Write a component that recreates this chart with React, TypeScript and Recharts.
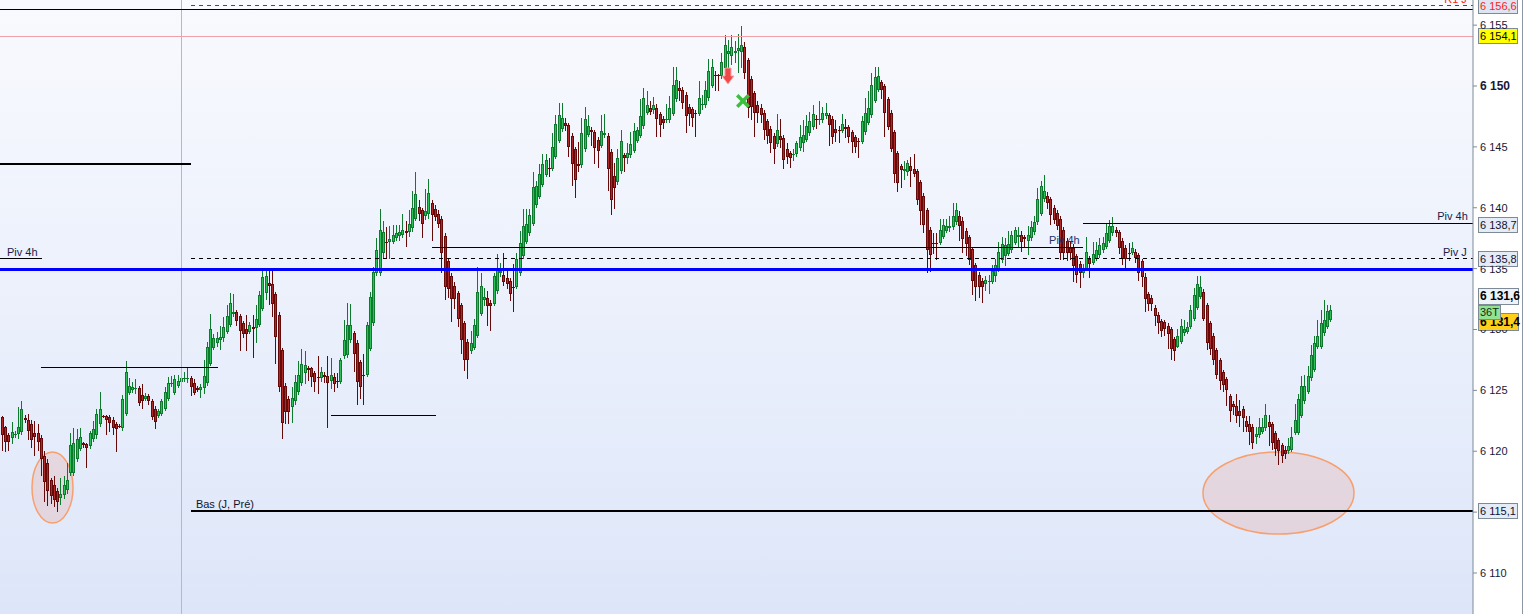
import React from 'react';
import {
  ComposedChart,
  Bar,
  XAxis,
  YAxis,
  CartesianGrid,
  ReferenceLine,
  ReferenceArea,
  ReferenceDot,
} from 'recharts';

// ---------- DATA ----------
const opens = [
  6122.8, 6122.0, 6121.3, 6121.1, 6121.3, 6121.4, 6121.6, 6122.7, 6122.6, 6122.2,
  6121.5, 6121.5, 6121.1, 6119.6, 6119.0, 6117.6, 6117.2, 6116.7, 6116.2, 6116.4,
  6116.8, 6118.2, 6118.2, 6119.4, 6120.2, 6120.7, 6120.6, 6120.4, 6121.0, 6121.3,
  6122.2, 6122.9, 6122.9, 6122.8, 6122.6, 6122.2, 6122.1, 6121.9, 6123.1, 6124.8,
  6125.0, 6125.1, 6125.2, 6124.6, 6124.3, 6124.5, 6124.1, 6123.5, 6122.9, 6123.1,
  6123.5, 6124.3, 6125.5, 6124.8, 6125.4, 6125.7, 6125.9, 6125.9, 6126.0, 6125.6,
  6125.2, 6125.0, 6125.2, 6125.6, 6127.2, 6128.5, 6128.9, 6129.1, 6129.3, 6129.8,
  6130.4, 6131.3, 6131.4, 6131.1, 6130.5, 6130.0, 6129.8, 6130.2, 6130.1, 6130.4,
  6131.7, 6133.0, 6133.8, 6133.7, 6132.9, 6131.2, 6128.3, 6125.4, 6124.3, 6123.6,
  6124.1, 6124.9, 6125.6, 6126.4, 6126.8, 6126.8, 6126.4, 6126.1, 6126.0, 6126.3,
  6126.2, 6125.8, 6126.1, 6125.8, 6125.7, 6127.8, 6127.9, 6129.1, 6129.7, 6128.9,
  6127.3, 6126.3, 6126.3, 6128.4, 6130.5, 6134.6, 6134.6, 6136.3, 6137.2, 6137.2,
  6137.2, 6137.5, 6137.7, 6137.8, 6138.1, 6138.0, 6138.3, 6139.1, 6140.1, 6139.8,
  6139.3, 6139.5, 6140.4, 6139.9, 6139.5, 6139.1, 6137.7, 6135.6, 6134.4, 6133.6,
  6133.0, 6132.0, 6130.5, 6129.0, 6128.2, 6128.5, 6129.5, 6131.3, 6132.4, 6132.6,
  6132.2, 6132.1, 6133.2, 6134.6, 6134.5, 6134.2, 6134.0, 6133.5, 6133.5, 6134.6,
  6136.0, 6137.2, 6137.9, 6138.7, 6140.2, 6140.9, 6141.9, 6142.7, 6143.3, 6143.2,
  6144.2, 6145.5, 6146.5, 6147.0, 6146.8, 6145.9, 6144.8, 6143.6, 6143.5, 6144.8,
  6146.0, 6146.4, 6146.2, 6145.6, 6145.1, 6146.0, 6145.9, 6144.6, 6142.6, 6142.1,
  6143.0, 6144.3, 6144.1, 6144.3, 6144.7, 6145.5, 6145.9, 6146.7, 6147.8, 6148.2,
  6148.0, 6148.2, 6147.7, 6147.3, 6147.2, 6147.2, 6147.7, 6148.9, 6149.8, 6149.7,
  6149.3, 6148.3, 6148.1, 6147.8, 6147.7, 6148.4, 6148.4, 6149.0, 6150.0, 6150.9,
  6150.9, 6150.8, 6151.5, 6152.6, 6152.5, 6152.7, 6152.9, 6152.8, 6153.2, 6152.1,
  6150.6, 6149.4, 6148.4, 6148.2, 6147.8, 6147.1, 6146.5, 6145.9, 6145.2, 6145.9,
  6145.7, 6144.8, 6144.5, 6144.3, 6144.4, 6144.9, 6145.3, 6145.6, 6146.1, 6146.6,
  6147.3, 6147.2, 6147.2, 6147.5, 6147.6, 6147.3, 6146.5, 6146.4, 6146.3, 6146.6,
  6146.6, 6146.2, 6145.8, 6145.5, 6145.4, 6146.2, 6147.0, 6147.6, 6148.8, 6149.7,
  6150.3, 6150.0, 6148.9, 6147.8, 6146.2, 6144.5, 6143.4, 6143.0, 6142.9, 6143.4,
  6143.2, 6143.0, 6142.1, 6141.0, 6139.8, 6138.2, 6137.1, 6137.1, 6137.1, 6137.6,
  6138.1, 6138.3, 6138.4, 6138.8, 6139.3, 6138.9, 6138.1, 6137.6, 6136.6, 6135.3,
  6134.5, 6134.0, 6133.7, 6133.9, 6133.9, 6134.4, 6134.9, 6135.7, 6136.0, 6136.2,
  6136.5, 6137.1, 6137.6, 6137.8, 6137.6, 6137.3, 6137.5, 6138.0, 6138.8, 6139.5,
  6140.7, 6141.0, 6140.7, 6140.0, 6139.6, 6139.1, 6138.2, 6137.3, 6136.7, 6136.7,
  6136.0, 6135.4, 6134.6, 6135.0, 6135.8, 6135.5, 6135.8, 6136.1, 6136.5, 6136.8,
  6137.3, 6137.9, 6138.2, 6138.0, 6137.3, 6136.7, 6136.3, 6136.3, 6136.4, 6136.1,
  6135.6, 6134.3, 6132.9, 6132.6, 6131.8, 6131.2, 6130.7, 6130.6, 6130.3, 6130.0,
  6129.2, 6128.6, 6129.0, 6129.7, 6129.8, 6130.2, 6130.9, 6131.8, 6132.7, 6133.1,
  6132.0, 6130.5, 6129.5, 6128.3, 6127.5, 6126.5, 6125.9, 6124.5, 6123.9, 6123.7,
  6123.3, 6123.5, 6122.5, 6122.2, 6122.0, 6121.2, 6121.3, 6121.6, 6121.9, 6122.4,
  6122.2, 6121.5, 6120.9, 6120.5, 6120.1, 6120.0, 6120.1, 6121.5, 6121.5, 6122.9,
  6124.1, 6124.9, 6126.0, 6126.7, 6128.6, 6128.6, 6129.7, 6130.2, 6130.8,
];

const highs = [
  6122.9, 6122.1, 6121.5, 6122.4, 6121.7, 6123.6, 6124.1, 6123.0, 6123.1, 6122.6,
  6122.5, 6122.2, 6121.3, 6120.0, 6119.4, 6117.8, 6118.0, 6117.0, 6117.8, 6118.0,
  6119.0, 6121.5, 6121.9, 6121.8, 6121.9, 6120.8, 6120.7, 6121.7, 6122.5, 6123.5,
  6124.9, 6123.0, 6123.0, 6123.0, 6122.8, 6122.4, 6122.2, 6124.6, 6127.4, 6126.0,
  6125.7, 6125.9, 6125.4, 6125.5, 6124.8, 6124.7, 6124.3, 6123.7, 6123.5, 6124.3,
  6125.3, 6126.1, 6126.2, 6126.3, 6126.3, 6126.6, 6126.5, 6126.9, 6126.2, 6125.9,
  6125.4, 6125.5, 6127.5, 6129.0, 6131.3, 6129.6, 6129.8, 6130.3, 6131.0, 6132.0,
  6133.0, 6132.9, 6131.6, 6131.3, 6130.7, 6131.2, 6130.6, 6131.2, 6132.0, 6133.2,
  6134.9, 6134.9, 6134.9, 6134.9, 6133.1, 6131.4, 6128.5, 6125.6, 6124.5, 6125.3,
  6126.3, 6127.4, 6128.4, 6128.2, 6127.0, 6126.9, 6126.6, 6127.8, 6126.9, 6126.5,
  6127.8, 6127.7, 6126.4, 6126.4, 6127.7, 6130.8, 6132.2, 6132.1, 6129.9, 6129.1,
  6127.5, 6128.0, 6130.6, 6133.1, 6135.1, 6137.5, 6139.9, 6138.9, 6138.4, 6138.5,
  6138.6, 6138.6, 6138.6, 6139.5, 6138.9, 6139.8, 6141.4, 6142.9, 6140.6, 6140.0,
  6141.5, 6142.4, 6140.6, 6140.2, 6139.8, 6139.3, 6137.9, 6135.8, 6134.6, 6133.9,
  6133.2, 6132.2, 6130.7, 6129.2, 6129.9, 6130.9, 6135.1, 6134.6, 6133.4, 6133.2,
  6132.4, 6134.6, 6136.2, 6135.5, 6136.3, 6134.9, 6134.2, 6135.4, 6136.3, 6138.1,
  6139.9, 6139.9, 6139.9, 6142.9, 6142.2, 6143.6, 6144.4, 6144.4, 6144.1, 6146.1,
  6147.6, 6148.6, 6148.6, 6147.4, 6147.0, 6146.1, 6145.0, 6145.4, 6147.4, 6148.3,
  6147.6, 6146.6, 6146.4, 6145.8, 6147.6, 6147.7, 6146.1, 6144.8, 6143.7, 6144.8,
  6146.4, 6144.5, 6145.3, 6146.2, 6147.0, 6146.6, 6148.9, 6149.8, 6149.6, 6148.8,
  6149.1, 6148.5, 6147.9, 6147.5, 6148.5, 6149.2, 6151.6, 6151.6, 6150.4, 6149.9,
  6149.5, 6148.5, 6148.3, 6148.0, 6150.4, 6149.3, 6150.4, 6152.2, 6152.2, 6151.2,
  6151.0, 6152.7, 6154.2, 6153.8, 6154.2, 6153.7, 6154.3, 6154.9, 6153.6, 6152.3,
  6150.8, 6149.6, 6148.8, 6148.5, 6148.0, 6147.3, 6146.7, 6146.1, 6147.7, 6147.3,
  6146.0, 6145.3, 6144.7, 6144.8, 6145.5, 6146.8, 6147.2, 6147.6, 6147.9, 6148.4,
  6147.6, 6148.8, 6148.3, 6148.6, 6147.8, 6147.5, 6147.2, 6146.7, 6147.7, 6147.3,
  6146.8, 6146.4, 6146.0, 6145.7, 6147.5, 6149.0, 6149.6, 6151.1, 6151.6, 6151.6,
  6150.5, 6150.2, 6149.1, 6148.0, 6146.4, 6144.7, 6143.6, 6143.8, 6143.9, 6144.2,
  6144.4, 6143.2, 6142.3, 6141.2, 6140.0, 6138.4, 6137.9, 6137.9, 6139.1, 6139.1,
  6139.1, 6139.3, 6140.4, 6140.4, 6139.7, 6139.2, 6138.3, 6137.8, 6136.8, 6135.5,
  6134.7, 6134.2, 6134.4, 6134.5, 6135.3, 6135.8, 6137.2, 6137.6, 6137.5, 6138.1,
  6138.1, 6138.4, 6138.4, 6138.1, 6137.8, 6138.5, 6138.9, 6139.3, 6141.6, 6142.2,
  6142.7, 6141.3, 6140.9, 6140.2, 6139.8, 6139.3, 6138.4, 6137.5, 6137.2, 6137.0,
  6136.2, 6135.6, 6135.4, 6137.6, 6136.0, 6137.2, 6137.2, 6137.5, 6137.6, 6138.7,
  6139.0, 6139.2, 6138.4, 6138.2, 6137.5, 6136.9, 6137.1, 6137.2, 6136.6, 6136.3,
  6135.8, 6134.6, 6133.1, 6132.8, 6132.0, 6131.4, 6130.9, 6130.8, 6130.5, 6130.2,
  6129.4, 6130.0, 6130.9, 6130.8, 6130.6, 6132.0, 6133.4, 6134.4, 6134.4, 6133.3,
  6132.2, 6130.7, 6129.7, 6128.5, 6127.7, 6126.7, 6126.1, 6124.7, 6124.1, 6124.7,
  6124.2, 6123.7, 6122.9, 6122.9, 6122.2, 6122.0, 6122.7, 6122.7, 6123.9, 6123.0,
  6122.4, 6121.7, 6121.1, 6120.7, 6120.4, 6121.1, 6122.0, 6123.9, 6124.7, 6126.2,
  6126.3, 6127.0, 6128.7, 6129.5, 6130.8, 6131.6, 6132.4, 6132.0, 6132.0,
];

const lows = [
  6120.0, 6119.9, 6120.0, 6120.6, 6121.1, 6121.0, 6121.3, 6122.3, 6120.9, 6120.3,
  6119.6, 6120.0, 6118.0, 6115.8, 6115.5, 6115.7, 6115.4, 6115.0, 6115.6, 6116.1,
  6116.5, 6118.0, 6118.0, 6119.1, 6120.0, 6120.3, 6118.6, 6120.2, 6120.8, 6121.0,
  6122.0, 6122.7, 6121.3, 6121.6, 6121.3, 6119.9, 6121.9, 6121.7, 6122.9, 6124.6,
  6124.8, 6124.7, 6123.7, 6123.5, 6124.1, 6123.8, 6122.6, 6121.8, 6122.7, 6122.9,
  6123.3, 6124.1, 6125.3, 6124.6, 6125.2, 6125.5, 6125.7, 6125.6, 6124.5, 6124.6,
  6124.9, 6124.4, 6124.7, 6125.4, 6127.0, 6128.3, 6128.6, 6128.3, 6129.0, 6129.6,
  6130.2, 6131.0, 6130.3, 6128.2, 6129.3, 6128.2, 6129.6, 6127.7, 6128.9, 6130.2,
  6131.5, 6132.4, 6132.0, 6131.0, 6127.2, 6124.9, 6121.0, 6122.2, 6122.2, 6122.3,
  6123.8, 6124.6, 6125.4, 6125.5, 6125.8, 6125.3, 6124.9, 6124.7, 6125.7, 6125.6,
  6121.9, 6125.1, 6124.9, 6125.2, 6125.5, 6127.6, 6127.7, 6128.9, 6126.5, 6123.8,
  6124.3, 6123.8, 6126.1, 6128.2, 6130.3, 6134.4, 6134.4, 6135.9, 6135.8, 6135.8,
  6137.0, 6137.3, 6137.3, 6137.5, 6136.8, 6137.6, 6138.0, 6138.9, 6138.9, 6137.5,
  6139.0, 6139.1, 6137.3, 6138.9, 6138.3, 6134.6, 6132.4, 6132.6, 6130.6, 6131.7,
  6130.2, 6128.0, 6126.6, 6125.9, 6128.0, 6128.3, 6129.3, 6131.1, 6131.9, 6130.3,
  6129.9, 6131.9, 6132.9, 6134.3, 6133.6, 6133.3, 6132.3, 6131.4, 6133.3, 6134.4,
  6135.8, 6137.0, 6137.7, 6138.5, 6140.0, 6140.7, 6141.7, 6142.5, 6142.5, 6143.0,
  6144.0, 6145.3, 6146.2, 6146.3, 6144.2, 6141.8, 6140.8, 6142.9, 6143.3, 6144.6,
  6145.8, 6145.1, 6143.6, 6143.3, 6144.9, 6145.7, 6141.4, 6139.4, 6139.9, 6141.9,
  6142.8, 6142.9, 6143.6, 6144.1, 6144.5, 6145.3, 6145.7, 6146.5, 6147.6, 6147.6,
  6147.7, 6145.8, 6145.8, 6146.5, 6147.0, 6147.0, 6147.5, 6148.7, 6148.8, 6148.1,
  6146.1, 6146.7, 6146.6, 6145.8, 6147.5, 6148.0, 6148.2, 6148.8, 6149.8, 6149.6,
  6149.6, 6150.6, 6151.3, 6151.5, 6151.7, 6151.9, 6151.1, 6151.5, 6150.6, 6147.4,
  6147.2, 6145.8, 6147.0, 6147.0, 6145.6, 6145.2, 6144.5, 6143.6, 6145.0, 6144.9,
  6143.2, 6143.6, 6143.3, 6143.8, 6144.2, 6144.7, 6144.6, 6145.4, 6145.9, 6146.4,
  6146.5, 6146.8, 6147.0, 6147.3, 6145.1, 6145.2, 6145.4, 6145.3, 6146.1, 6145.7,
  6145.3, 6144.5, 6144.5, 6144.1, 6145.2, 6146.0, 6146.8, 6147.4, 6148.6, 6149.5,
  6148.9, 6145.8, 6146.4, 6144.6, 6142.0, 6141.3, 6141.6, 6142.3, 6142.6, 6141.7,
  6142.5, 6140.2, 6138.6, 6137.9, 6134.6, 6134.7, 6136.2, 6135.7, 6136.9, 6137.4,
  6137.9, 6138.0, 6138.2, 6138.6, 6137.3, 6136.3, 6136.0, 6135.3, 6132.8, 6132.3,
  6132.6, 6132.2, 6133.2, 6132.9, 6133.7, 6133.9, 6134.7, 6135.5, 6135.2, 6136.0,
  6136.3, 6136.9, 6136.8, 6136.4, 6136.7, 6136.1, 6137.3, 6137.8, 6138.6, 6139.3,
  6140.5, 6139.9, 6138.6, 6138.7, 6138.2, 6135.7, 6135.7, 6135.6, 6135.7, 6133.9,
  6133.8, 6133.4, 6134.2, 6134.8, 6134.2, 6135.3, 6135.6, 6135.9, 6136.3, 6136.6,
  6137.1, 6137.7, 6137.6, 6136.2, 6135.3, 6134.8, 6135.6, 6136.1, 6135.5, 6134.0,
  6133.5, 6131.4, 6131.5, 6131.5, 6130.3, 6129.6, 6129.4, 6129.5, 6128.4, 6127.5,
  6127.4, 6128.5, 6128.8, 6129.5, 6129.6, 6130.0, 6130.7, 6131.6, 6132.5, 6130.7,
  6128.3, 6127.9, 6127.1, 6125.9, 6125.0, 6124.9, 6123.7, 6122.4, 6123.0, 6122.3,
  6122.0, 6121.6, 6121.6, 6120.5, 6120.2, 6120.6, 6121.1, 6121.4, 6121.7, 6120.4,
  6120.1, 6119.6, 6118.9, 6119.0, 6119.4, 6119.8, 6119.9, 6121.3, 6121.3, 6122.7,
  6123.9, 6124.7, 6125.8, 6126.5, 6128.4, 6128.4, 6129.5, 6130.0, 6130.6,
];

const closes = [
  6121.3, 6120.8, 6120.8, 6121.6, 6121.4, 6122.0, 6123.5, 6122.6, 6121.7, 6120.9,
  6121.2, 6120.8, 6119.4, 6117.5, 6116.7, 6116.3, 6116.0, 6115.8, 6116.5, 6117.2,
  6117.6, 6120.5, 6120.7, 6121.0, 6121.2, 6120.5, 6120.3, 6121.5, 6121.8, 6123.1,
  6123.5, 6122.8, 6122.6, 6122.3, 6121.9, 6121.8, 6122.0, 6124.3, 6126.5, 6125.4,
  6125.3, 6125.2, 6124.0, 6124.1, 6124.5, 6124.1, 6122.8, 6122.4, 6123.3, 6124.1,
  6124.9, 6125.6, 6125.6, 6125.9, 6125.8, 6126.0, 6126.0, 6126.0, 6125.3, 6124.8,
  6125.0, 6125.3, 6126.2, 6128.6, 6130.0, 6129.3, 6129.3, 6129.4, 6130.2, 6131.1,
  6132.2, 6131.4, 6130.7, 6129.9, 6129.6, 6129.6, 6130.4, 6130.0, 6130.9, 6132.8,
  6134.3, 6134.4, 6133.6, 6132.1, 6129.4, 6125.3, 6122.3, 6123.2, 6123.2, 6124.4,
  6125.7, 6126.3, 6127.2, 6127.1, 6126.7, 6126.1, 6125.7, 6126.0, 6126.5, 6126.1,
  6125.6, 6126.3, 6125.5, 6125.7, 6127.5, 6129.1, 6130.4, 6130.4, 6128.0, 6125.7,
  6125.3, 6126.2, 6130.4, 6132.7, 6134.7, 6136.5, 6138.2, 6138.0, 6137.1, 6137.4,
  6137.8, 6137.9, 6138.0, 6138.2, 6137.9, 6138.7, 6139.95, 6141.1, 6139.5, 6138.7,
  6139.7, 6141.2, 6139.4, 6139.2, 6138.7, 6136.3, 6133.5, 6133.3, 6132.5, 6132.5,
  6130.9, 6129.1, 6127.5, 6127.5, 6128.9, 6130.4, 6133.1, 6133.6, 6132.7, 6131.9,
  6131.9, 6134.4, 6135.0, 6134.8, 6133.9, 6133.7, 6132.9, 6133.4, 6135.8, 6137.1,
  6138.5, 6138.7, 6139.4, 6141.7, 6141.8, 6142.8, 6143.6, 6143.9, 6143.2, 6145.0,
  6146.9, 6147.6, 6147.4, 6146.7, 6145.0, 6143.6, 6142.3, 6143.4, 6146.1, 6147.3,
  6146.7, 6146.2, 6144.9, 6144.7, 6146.3, 6146.1, 6143.2, 6140.6, 6141.6, 6144.1,
  6145.5, 6144.1, 6144.5, 6145.2, 6146.3, 6146.4, 6147.5, 6149.0, 6148.4, 6147.9,
  6148.4, 6147.3, 6146.8, 6147.0, 6147.3, 6148.2, 6150.1, 6150.5, 6149.6, 6148.6,
  6147.5, 6147.7, 6147.4, 6147.7, 6149.0, 6148.5, 6149.7, 6151.2, 6151.6, 6150.8,
  6150.8, 6152.0, 6153.4, 6152.9, 6153.2, 6152.9, 6153.1, 6153.4, 6151.1, 6148.2,
  6148.3, 6147.8, 6147.8, 6147.6, 6146.4, 6145.9, 6145.3, 6144.8, 6146.4, 6145.6,
  6143.9, 6144.2, 6144.1, 6144.4, 6145.3, 6145.8, 6146.0, 6146.7, 6147.1, 6147.7,
  6147.2, 6147.3, 6147.8, 6147.8, 6146.8, 6145.8, 6146.1, 6146.3, 6146.9, 6146.5,
  6145.8, 6145.4, 6145.0, 6145.4, 6147.1, 6147.8, 6148.2, 6150.1, 6150.7, 6150.8,
  6149.7, 6147.8, 6146.6, 6144.8, 6142.8, 6142.0, 6143.1, 6143.2, 6143.7, 6143.0,
  6142.8, 6140.6, 6139.7, 6138.6, 6136.5, 6136.1, 6137.0, 6137.0, 6138.2, 6138.6,
  6138.5, 6138.5, 6139.3, 6139.8, 6138.5, 6137.4, 6137.0, 6135.7, 6134.0, 6133.5,
  6133.5, 6133.5, 6134.1, 6134.0, 6134.8, 6135.3, 6136.4, 6137.0, 6136.9, 6137.0,
  6137.8, 6138.2, 6137.8, 6137.2, 6137.4, 6137.8, 6138.4, 6138.8, 6140.7, 6141.8,
  6141.4, 6140.4, 6139.4, 6139.0, 6138.5, 6136.3, 6136.3, 6136.3, 6136.3, 6135.2,
  6134.5, 6134.6, 6135.0, 6136.4, 6135.4, 6136.2, 6136.5, 6136.9, 6137.1, 6137.9,
  6138.5, 6138.5, 6137.9, 6136.7, 6135.8, 6135.8, 6136.2, 6136.7, 6135.9, 6134.6,
  6134.3, 6132.5, 6132.1, 6132.1, 6131.1, 6130.5, 6129.9, 6130.0, 6129.6, 6128.4,
  6128.2, 6129.5, 6130.3, 6130.0, 6130.2, 6131.6, 6132.8, 6133.7, 6133.5, 6130.9,
  6128.9, 6128.4, 6127.5, 6126.3, 6125.8, 6125.45, 6125.0, 6123.3, 6123.6, 6122.9,
  6122.9, 6122.7, 6122.0, 6121.6, 6120.7, 6121.4, 6122.0, 6122.0, 6123.0, 6122.0,
  6120.7, 6120.2, 6120.0, 6119.6, 6119.8, 6120.4, 6121.2, 6122.6, 6124.3, 6125.4,
  6125.4, 6126.2, 6127.9, 6128.9, 6129.5, 6130.5, 6130.8, 6131.5, 6131.6,
];

const yTicks = [6110, 6115, 6120, 6125, 6130, 6135, 6140, 6145, 6150, 6155];

// horizontal levels spanning the whole plot
const fullLevels = [
  { value: 6156.3, color: '#000000', width: 1 },
  { value: 6154.1, color: '#f2a0a6', width: 1 },
  { value: 6134.9, color: '#0000ff', width: 3 },
];

// levels drawn over a bar range [from, to]
const segmentLevels = [
  { value: 6156.6, from: 57.9, to: 451.58, color: '#ff0000', width: 1, dash: '4 4' },
  { value: 6143.6, from: -0.75, to: 57.9, color: '#000000', width: 2.5, dash: '' },
  { value: 6135.8, from: -0.75, to: 12.15, color: '#000000', width: 1, dash: '' },
  { value: 6135.8, from: 57.9, to: 451.58, color: '#000000', width: 1, dash: '4 4' },
  { value: 6136.75, from: 131.9, to: 331.8, color: '#000000', width: 1, dash: '' },
  { value: 6138.7, from: 331.8, to: 451.58, color: '#000000', width: 1, dash: '' },
  { value: 6126.9, from: 11.84, to: 66.2, color: '#000000', width: 1, dash: '' },
  { value: 6122.9, from: 100.9, to: 133.1, color: '#000000', width: 1, dash: '' },
  { value: 6115.1, from: 57.9, to: 451.58, color: '#000000', width: 2.5, dash: '' },
];

const sessionBreaks = [54.92];

// text notes: position (bar index, price) of the text baseline
const notes = [
  { x: 1.4, value: 6136.04, text: 'Piv 4h', anchor: 'start', color: '#1c2048' },
  { x: 450.0, value: 6138.99, text: 'Piv 4h', anchor: 'end', color: '#1c2048' },
  { x: 449.7, value: 6136.04, text: 'Piv J', anchor: 'end', color: '#1c2048' },
  { x: 59.4, value: 6115.34, text: 'Bas (J, Pré)', anchor: 'start', color: '#10142e' },
  { x: 449.7, value: 6156.82, text: 'R1 J', anchor: 'end', color: '#ff2020' },
];
const hiddenNote = { x: 321.4, value: 6137.02, text: 'Piv 4h' };

// highlighted zones (ellipses)
const zones = [
  { x1: 9.08, x2: 21.67, y1: 6114.11, y2: 6119.94 },
  { x1: 368.66, x2: 415.04, y1: 6113.2, y2: 6119.94 },
];

// signals
const sellSignal = { x: 222.8, value: 6150.82 };
const exitSignal = { x: 227.4, value: 6148.77 };

// price tags on the right axis
const axisTags = [
  { value: 6156.6, text: '6 156,6', fill: '#dce5f1', color: '#ff1a1a', bold: false, shift: 0, w: 39, h: 15 },
  { value: 6154.1, text: '6 154,1', fill: '#ffff00', color: '#000000', bold: false, shift: 0, w: 39, h: 15 },
  { value: 6138.7, text: '6 138,7', fill: '#e4ecf7', color: '#101030', bold: false, shift: 1, w: 39, h: 15 },
  { value: 6135.8, text: '6 135,8', fill: '#e4ecf7', color: '#101030', bold: false, shift: 0, w: 39, h: 15 },
  { value: 6131.6, text: '6 131,6', fill: '#eef3fa', color: '#000000', bold: true, shift: -14, w: 40, h: 16 },
  { value: 6131.4, text: '6 131,4', fill: '#ffcf1c', color: '#000000', bold: true, shift: 10, w: 40, h: 17 },
  { value: 6131.4, text: '36T', fill: '#93e293', color: '#103010', bold: false, shift: 0, w: 22, h: 14 },
  { value: 6115.1, text: '6 115,1', fill: '#e4ecf7', color: '#101030', bold: false, shift: 0, w: 39, h: 15 },
];

// part of each tick label that stays visible next to the price tags (pixels from the tick, null = hidden)
const tickVisibleFrom: Record<number, number | null> = { 6135: -3, 6130: 0.5, 6115: null };

// ---------- LAYOUT ----------
const W = 1525;
const H = 614;
const AXIS_W = 52;
const X_MIN = -0.75;
const X_MAX = 451.58;
const Y_MIN = 6106.632;
const Y_MAX = 6157.064;
const FONT = '"Liberation Sans", Arial, sans-serif';

const data = opens.map((o, i) => ({
  i,
  range: [lows[i], highs[i]],
  o,
  h: highs[i],
  l: lows[i],
  c: closes[i],
}));

const UP_EDGE = '#0d7a2d';
const UP_FILL = '#2cc157';
const DN_EDGE = '#650909';
const DN_FILL = '#ad2a2a';

function Candle(props: any) {
  const { x, y, width, height } = props;
  const d = props.payload || props;
  if (x == null || y == null || d == null) return null;
  const top = Math.min(y, y + height);
  const bot = Math.max(y, y + height);
  const span = d.h - d.l;
  const ppu = span > 0 ? (bot - top) / span : 0;
  const px = Math.round(x + width / 2 - 0.5);
  const yo = top + (d.h - d.o) * ppu;
  const yc = top + (d.h - d.c) * ppu;
  const up = d.c >= d.o;
  const edge = up ? UP_EDGE : DN_EDGE;
  const fill = up ? UP_FILL : DN_FILL;
  const bt = Math.round(Math.min(yo, yc));
  let bb = Math.round(Math.max(yo, yc));
  if (bb - bt < 1) bb = bt + 1;
  const wt = Math.round(top);
  const wb = Math.max(wt + 1, Math.round(bot));
  return (
    <g shapeRendering="crispEdges">
      <rect x={px} y={wt} width={1} height={wb - wt} fill={edge} />
      <rect x={px - 1} y={bt} width={3} height={bb - bt} fill={edge} />
      {bb - bt > 2 && <rect x={px} y={bt + 1} width={1} height={bb - bt - 2} fill={fill} />}
    </g>
  );
}

const fmt = (v: number) => `${Math.floor(v / 1000)} ${String(v % 1000).padStart(3, '0')}`;

function AxisTick(props: any) {
  const { x, y, payload } = props;
  const v = payload.value;
  const bold = v === 6150;
  const from = v in tickVisibleFrom ? tickVisibleFrom[v] : undefined;
  if (from === null) return null;
  const id = `tickclip${v}`;
  return (
    <g>
      {from !== undefined && (
        <defs>
          <clipPath id={id}>
            <rect x={x - 2} y={y + from} width={50} height={20} />
          </clipPath>
        </defs>
      )}
      <text
        x={x}
        y={y + 4}
        textAnchor="start"
        fontSize={bold ? 12 : 11}
        fontWeight={bold ? 700 : 400}
        fontFamily={FONT}
        fill="#181838"
        clipPath={from !== undefined ? `url(#${id})` : undefined}
      >
        {fmt(v)}
      </text>
    </g>
  );
}

function AxisBox({ cx, cy, tag }: any) {
  if (cx == null || cy == null) return null;
  const c = cy + tag.shift;
  const left = cx + 5;
  return (
    <g>
      <rect
        x={left}
        y={c - tag.h / 2}
        width={tag.w}
        height={tag.h}
        fill={tag.fill}
        stroke="#7d8a98"
        strokeWidth={1}
        shapeRendering="crispEdges"
      />
      <text
        x={left + 2}
        y={c + 4}
        fontSize={tag.bold ? 12 : 11}
        fontWeight={tag.bold ? 700 : 400}
        fontFamily={FONT}
        fill={tag.color}
      >
        {tag.text}
      </text>
    </g>
  );
}

function NoteText({ cx, cy, note }: any) {
  if (cx == null || cy == null) return null;
  return (
    <text
      x={cx}
      y={cy}
      textAnchor={note.anchor || 'start'}
      fontSize={11}
      fontFamily={FONT}
      fill={note.color || '#1c2048'}
    >
      {note.text}
    </text>
  );
}

function ArrowDown({ cx, cy }: any) {
  if (cx == null || cy == null) return null;
  const t = cy - 8;
  return (
    <path
      d={`M${cx - 3},${t} L${cx + 3},${t} L${cx + 3},${t + 8} L${cx + 6},${t + 8} L${cx},${t + 16} L${cx - 6},${t + 8} L${cx - 3},${t + 8} Z`}
      fill="#f04848"
      stroke="#f6a0a0"
      strokeWidth={1}
    />
  );
}

function CrossMark({ cx, cy }: any) {
  if (cx == null || cy == null) return null;
  const s = 4.5;
  return (
    <g stroke="#3cbf3c" strokeWidth={3.5} strokeLinecap="square">
      <line x1={cx - s} y1={cy - s} x2={cx + s} y2={cy + s} />
      <line x1={cx - s} y1={cy + s} x2={cx + s} y2={cy - s} />
    </g>
  );
}

function Ellipse(props: any) {
  const { x, y, width, height } = props;
  if (x == null || y == null) return null;
  return (
    <ellipse
      cx={x + width / 2}
      cy={y + height / 2}
      rx={Math.abs(width) / 2}
      ry={Math.abs(height) / 2}
      fill="rgba(236,150,140,0.24)"
      stroke="#f7a06e"
      strokeWidth={1.5}
    />
  );
}

export default function App() {
  return (
    <div style={{ position: 'absolute', left: 0, top: 0, width: W, height: H, background: '#ffffff', overflow: 'hidden' }}>
      <ComposedChart
        width={W}
        height={H}
        data={data}
        margin={{ top: 0, right: 0, bottom: 0, left: 0 }}
        barCategoryGap={0}
      >
        <defs>
          <linearGradient id="plotBg" x1="0" y1="0" x2="0" y2="1">
            <stop offset="0%" stopColor="#f9fafe" />
            <stop offset="100%" stopColor="#dde6f9" />
          </linearGradient>
        </defs>
        <CartesianGrid horizontal={false} vertical={false} fill="url(#plotBg)" fillOpacity={1} />
        <XAxis type="number" dataKey="i" domain={[X_MIN, X_MAX]} allowDataOverflow hide />
        <YAxis
          orientation="right"
          width={AXIS_W}
          domain={[Y_MIN, Y_MAX]}
          allowDataOverflow
          ticks={yTicks}
          interval={0}
          tick={<AxisTick />}
          tickSize={4}
          tickMargin={3}
          tickLine={{ stroke: '#7d8a98' }}
          axisLine={{ stroke: '#7d8a98' }}
        />
        {sessionBreaks.map((b) => (
          <ReferenceLine
            key={`sb${b}`}
            x={b}
            stroke="#f2a0a6"
            strokeWidth={1}
            ifOverflow="visible"
            shapeRendering="crispEdges"
          />
        ))}
        <ReferenceDot
          x={hiddenNote.x}
          y={hiddenNote.value}
          r={0}
          ifOverflow="visible"
          shape={(p: any) => <NoteText cx={p.cx} cy={p.cy} note={{ text: hiddenNote.text, color: '#24306a' }} />}
        />
        <Bar dataKey="range" barSize={3} isAnimationActive={false} shape={<Candle />} />
        {fullLevels.map((l) => (
          <ReferenceLine
            key={`fl${l.value}`}
            y={l.value}
            stroke={l.color}
            strokeWidth={l.width}
            ifOverflow="visible"
            shapeRendering="crispEdges"
          />
        ))}
        {segmentLevels.map((l, k) => (
          <ReferenceLine
            key={`sl${k}`}
            segment={[
              { x: l.from, y: l.value },
              { x: l.to, y: l.value },
            ]}
            stroke={l.color}
            strokeWidth={l.width}
            strokeDasharray={l.dash || undefined}
            ifOverflow="visible"
            shapeRendering="crispEdges"
          />
        ))}
        {zones.map((z, k) => (
          <ReferenceArea
            key={`z${k}`}
            x1={z.x1}
            x2={z.x2}
            y1={z.y1}
            y2={z.y2}
            ifOverflow="visible"
            shape={(p: any) => <Ellipse {...p} />}
          />
        ))}
        <ReferenceDot
          x={sellSignal.x}
          y={sellSignal.value}
          r={0}
          ifOverflow="visible"
          shape={(p: any) => <ArrowDown cx={p.cx} cy={p.cy} />}
        />
        <ReferenceDot
          x={exitSignal.x}
          y={exitSignal.value}
          r={0}
          ifOverflow="visible"
          shape={(p: any) => <CrossMark cx={p.cx} cy={p.cy} />}
        />
        {notes.map((n, k) => (
          <ReferenceDot
            key={`n${k}`}
            x={n.x}
            y={n.value}
            r={0}
            ifOverflow="visible"
            shape={(p: any) => <NoteText cx={p.cx} cy={p.cy} note={n} />}
          />
        ))}
        {axisTags.map((t, k) => (
          <ReferenceDot
            key={`t${k}`}
            x={X_MAX}
            y={t.value}
            r={0}
            ifOverflow="visible"
            shape={(p: any) => <AxisBox cx={p.cx} cy={p.cy} tag={t} />}
          />
        ))}
      </ComposedChart>
      <div style={{ position: 'absolute', left: 1522, top: 0, width: 1, height: H, background: '#8a96a3' }} />
    </div>
  );
}
